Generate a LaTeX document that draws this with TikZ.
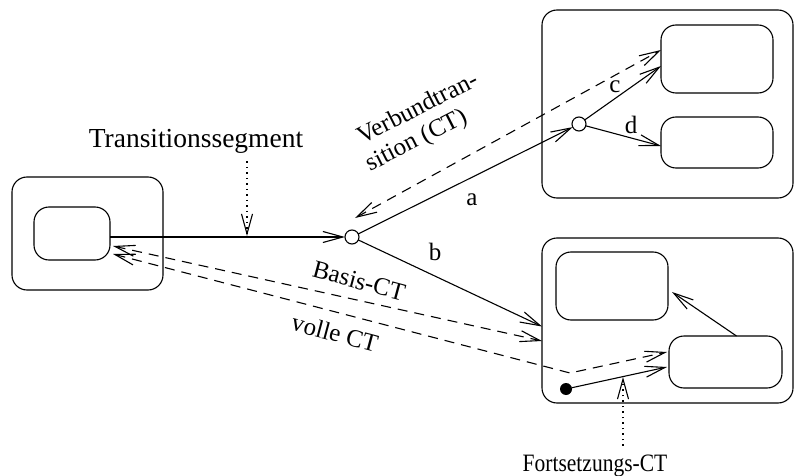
\documentclass[tikz,border=0pt]{standalone}
\usepackage{fontspec}
\setmainfont{Liberation Serif}
\usetikzlibrary{arrows.meta,calc}

\begin{document}
\begin{tikzpicture}[x=1pt,y=-1pt,
  line width=1.1pt,
  >={Straight Barb[length=20pt,width=11pt]},
  every node/.style={font=\fontsize{25}{30}\selectfont},
  state/.style={draw, rounded corners=15pt, inner sep=0pt, outer sep=0pt},
  junc/.style={draw, circle, minimum size=14pt, inner sep=0pt, outer sep=0pt},
  startdot/.style={fill, circle, minimum size=12pt, inner sep=0pt, outer sep=0pt},
  ctline/.style={dash pattern=on 10pt off 7pt},
  pointer/.style={dash pattern=on 1.5pt off 4pt, ->},
  lbl/.style={inner sep=0pt}
]
\useasboundingbox (0,0) rectangle (795,476);

% left compound state
\node[state, minimum width=151pt, minimum height=113pt] (LO) at (87.5,233.5) {};
\node[state, minimum width=76pt, minimum height=53pt] (LI) at (72,233.5) {};

% junction points
\node[junc] (J) at (352,237) {};
\node[junc] (K) at (579,124) {};

% upper right compound state
\node[state, minimum width=251pt, minimum height=188pt] (TR) at (667.5,104) {};
\node[state, minimum width=112pt, minimum height=68pt] (T1) at (717,59) {};
\node[state, minimum width=112pt, minimum height=51pt] (T2) at (717,142.5) {};

% lower right compound state
\node[state, minimum width=251pt, minimum height=165pt] (BR) at (667.5,320.5) {};
\node[state, minimum width=112pt, minimum height=68pt] (B1) at (612,286) {};
\node[state, minimum width=113pt, minimum height=52pt] (B2) at (725.5,362) {};
\node[startdot] (D) at (566,389) {};

% text labels
\node[lbl, anchor=base, font=\fontsize{27.5}{32}\selectfont] (ts) at (196,147) {Transitionssegment};
\node[lbl, anchor=base] (fc) at (595,471) {\scalebox{0.86}[1]{Fortsetzungs-CT}};
\node[lbl, rotate=27] (vt1) at (417,107) {Verbundtran-};
\node[lbl, rotate=27] (vt2) at (417,141) {sition (CT)};
\node[lbl, rotate=-15] (bct) at (359,281) {Basis-CT};
\node[lbl, rotate=-15] (vct) at (335,333) {volle CT};
\node[lbl] (la) at (472,200) {a};
\node[lbl] (lb) at (435,252) {b};
\node[lbl] (lc) at (615,87) {c};
\node[lbl] (ld) at (631,125) {d};

% transition segments
\draw[->] (J -| LI.east) -- (J);
\draw[->] (J) -- (K);
\draw[->] (J) -- ($(BR.west)+(0,6)$);
\draw[->] (K) -- ($(T1.west)+(0,7)$);
\draw[->] (K) -- ($(T2.west)+(0,3.5)$);
\draw[->] (D) -- ($(B2.west)+(-2,5)$);
\draw[->] ($(B2.north)+(11,0)$) -- ($(B1.east)+(4,6)$);

% compound transitions
\coordinate (vtEnd) at ($(J)+(3,-19)$);
\draw[ctline, <->] (vtEnd) -- ($(T1.west)+(0,-9)$);
\draw[ctline, <->] ($(LI.east)+(3,12.5)$) -- ($(BR.west)+(0,20.5)$);
\coordinate (bend) at ($(D)+(4,-16)$);
\draw[ctline, <->] ($(LI.east)+(3,20.5)$) -- (bend) -- ($(B2.west)+(-2,-10)$);

% pointers from the annotations
\coordinate (tsTip) at (247,236);
\draw[pointer] (tsTip |- ts.south) ++(0,8) -- (tsTip);
\coordinate (fcTip) at (623,377);
\draw[pointer] (fcTip |- fc.north) ++(0,-8) -- (fcTip);
\end{tikzpicture}
\end{document}
